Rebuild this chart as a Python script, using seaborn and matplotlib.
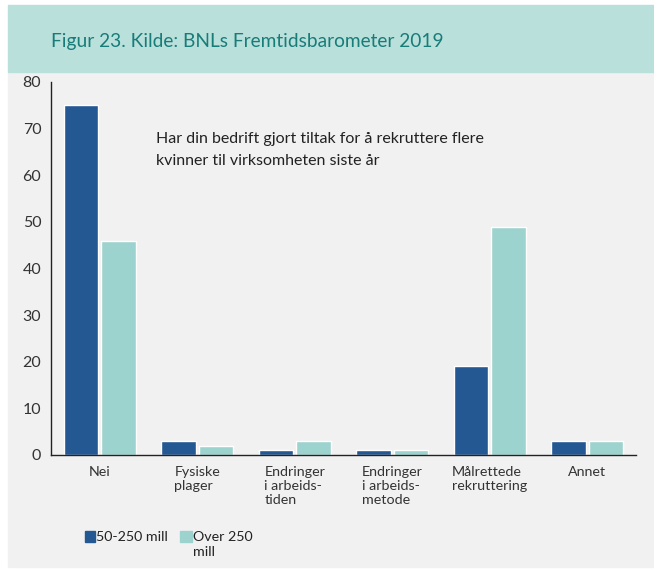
import numpy as np
import pandas as pd
import seaborn as sns
import matplotlib.pyplot as plt
from matplotlib.patches import Rectangle

sns.set_style('white')
plt.rcParams['font.family'] = ['Lato', 'DejaVu Sans']

# ============================================================
# Data
# ============================================================
categories = ['Nei', 'Fysiske\nplager', 'Endringer\ni arbeids-\ntiden',
              'Endringer\ni arbeids-\nmetode', 'Målrettede\nrekruttering', 'Annet']
small = [75, 3, 1, 1, 19, 3]      # 50-250 mill
large = [46, 2, 3, 1, 49, 3]      # Over 250 mill
series = ['50-250 mill', 'Over 250\nmill']

df = pd.DataFrame({
    'kategori': categories * 2,
    'verdi': small + large,
    'gruppe': [series[0]] * len(categories) + [series[1]] * len(categories),
})

colors = ['#245893', '#9dd3ce']

# ============================================================
# Figure with header band and grey panel
# ============================================================
fig = plt.figure(figsize=(6.54, 5.72), dpi=100)
fig.patch.set_facecolor('white')
fig.add_artist(Rectangle((8 / 654, 1 - 567 / 572), 1, (567 - 72) / 572,
                         transform=fig.transFigure, color='#f1f1f1', zorder=0))
fig.add_artist(Rectangle((8 / 654, 1 - 72 / 572), 1, (72 - 5) / 572,
                         transform=fig.transFigure, color='#bae0dc', zorder=0))
fig.text(51 / 654, 1 - 42 / 572, 'Figur 23. Kilde: BNLs Fremtidsbarometer 2019',
         color='#187c78', fontsize=13.8, va='center', ha='left')

ax = fig.add_axes([51 / 654, 1 - 455 / 572, (636 - 51) / 654, (455 - 82) / 572])
ax.set_facecolor('none')

sns.barplot(data=df, x='kategori', y='verdi', hue='gruppe', palette=colors,
            width=0.77, gap=0.08, saturation=1, ax=ax, legend=False)

ax.set_xlim(-0.5, len(categories) - 0.5)
ax.set_ylim(0, 80)
ax.set_yticks(range(0, 81, 10))
ax.set_xlabel('')
ax.set_ylabel('')

for s in ['top', 'right']:
    ax.spines[s].set_visible(False)
for s in ['left', 'bottom']:
    ax.spines[s].set_color('#222222')
    ax.spines[s].set_linewidth(1)

ax.tick_params(axis='y', direction='in', length=9, width=1, color='#333333',
               labelsize=11.5, labelcolor='#333333', pad=7)
ax.tick_params(axis='x', which='major', length=0, labelsize=10.3,
               labelcolor='#333333', pad=8)
ax.set_xticks(np.arange(0.5, len(categories), 1), minor=True)
ax.tick_params(axis='x', which='minor', direction='in', length=8, width=1, color='#333333')
for lab in ax.get_xticklabels():
    lab.set_multialignment('left')
    lab.set_verticalalignment('top')
    lab.set_linespacing(1.18)

ax.text(0.58, 65.4, 'Har din bedrift gjort tiltak for å rekruttere flere\n'
        'kvinner til virksomheten siste år', fontsize=11.5, color='#222222',
        va='center', ha='left', linespacing=1.75)

# legend (manuell)
fig.add_artist(Rectangle((85 / 654, 1 - 542 / 572), 10 / 654, 11 / 572,
                         transform=fig.transFigure, color=colors[0]))
fig.text(96 / 654, 1 - 537 / 572, series[0], fontsize=10.3, color='#222222',
         va='center', ha='left')
fig.add_artist(Rectangle((180 / 654, 1 - 542 / 572), 12 / 654, 11 / 572,
                         transform=fig.transFigure, color=colors[1]))
fig.text(193 / 654, 1 - 531 / 572, series[1], fontsize=10.3, color='#222222',
         va='top', ha='left', linespacing=1.3)

plt.savefig('out.png', dpi=100)
